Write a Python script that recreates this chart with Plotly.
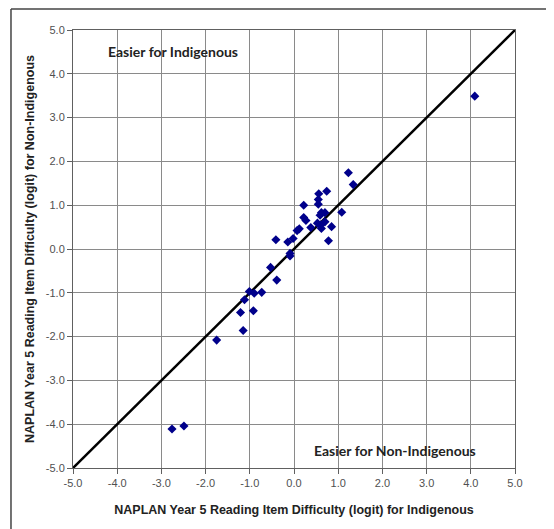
import plotly.graph_objects as go

indigenous = [4.09, -2.76, -2.49, -1.75,
              1.23, 1.34, 0.74, 0.56, 0.55, 0.55, 0.22, 1.08, 0.62, 0.70, 0.59,
              0.22, 0.27, 0.70, 0.53, 0.60, 0.38, 0.85, 0.62, 0.12, 0.07,
              -0.02, 0.78, -0.41, -0.14, -0.09, -0.09, -0.53, -0.39,
              -1.01, -0.90, -0.73, -1.12, -1.21, -0.92, -1.15]
non_indigenous = [3.49, -4.11, -4.04, -2.08,
                  1.74, 1.47, 1.32, 1.26, 1.13, 1.02, 1.00, 0.84, 0.83, 0.83, 0.77,
                  0.72, 0.65, 0.62, 0.59, 0.55, 0.49, 0.51, 0.47, 0.46, 0.42,
                  0.24, 0.19, 0.21, 0.16, -0.10, -0.16, -0.42, -0.71,
                  -0.97, -1.01, -0.99, -1.16, -1.45, -1.41, -1.86]
line_xy = [-5.0, 5.0]
tick_vals = [-5, -4, -3, -2, -1, 0, 1, 2, 3, 4, 5]
tick_text = ["-5.0", "-4.0", "-3.0", "-2.0", "-1.0", "0.0", "1.0", "2.0", "3.0", "4.0", "5.0"]

fig = go.Figure()
fig.add_trace(go.Scatter(x=line_xy, y=line_xy, mode="lines",
                         line=dict(color="black", width=2.5), showlegend=False,
                         hoverinfo="skip"))
fig.add_trace(go.Scatter(x=indigenous, y=non_indigenous, mode="markers",
                         marker=dict(symbol="diamond", color="#00008B", size=7),
                         showlegend=False))

axis_common = dict(range=[-5, 5], tickvals=tick_vals, ticktext=tick_text,
                   showgrid=True, gridcolor="#8a8a8a", gridwidth=1,
                   zeroline=False, showline=True, linecolor="#606060", linewidth=1,
                   mirror=True, ticks="outside", ticklen=5, tickcolor="#606060",
                   automargin=False,
                   tickfont=dict(family="Liberation Sans, Arial", size=11, color="#505050"))

# plot area 442x438 px; figure is offset 8px by the page margin
fig.update_layout(
    width=546, height=521,
    margin=dict(l=65, r=39, t=22, b=61),
    paper_bgcolor="white", plot_bgcolor="white",
    xaxis=dict(**axis_common,
               title=dict(text="<b>NAPLAN Year 5 Reading Item Difficulty (logit) for Indigenous</b>",
                          font=dict(family="Liberation Sans, Arial", size=12.5, color="#222"),
                          standoff=17)),
    yaxis=dict(**axis_common,
               title=dict(text="<b>NAPLAN Year 5 Reading Item Difficulty (logit) for Non-Indigenous</b>",
                          font=dict(family="Liberation Sans, Arial", size=12.5, color="#222"),
                          standoff=8)),
    annotations=[
        dict(x=-4.25, y=4.50, xref="x", yref="y", text="<b>Easier for Indigenous</b>",
             showarrow=False, xanchor="left", yanchor="middle",
             font=dict(family="Lato, Open Sans", size=14, color="#222")),
        dict(x=0.41, y=-4.59, xref="x", yref="y", text="<b>Easier for Non-Indigenous</b>",
             showarrow=False, xanchor="left", yanchor="middle",
             font=dict(family="Lato, Open Sans", size=14, color="#222")),
    ],
    shapes=[
        dict(type="line", xref="paper", yref="paper", x0=-0.1403, x1=-0.1403,
             y0=1.048, y1=-0.14, line=dict(color="#444", width=1.5)),
        dict(type="line", xref="paper", yref="paper", x0=-0.1403, x1=1.09,
             y0=1.048, y1=1.048, line=dict(color="#444", width=1.5)),
    ],
)

fig.write_html("out.html")
